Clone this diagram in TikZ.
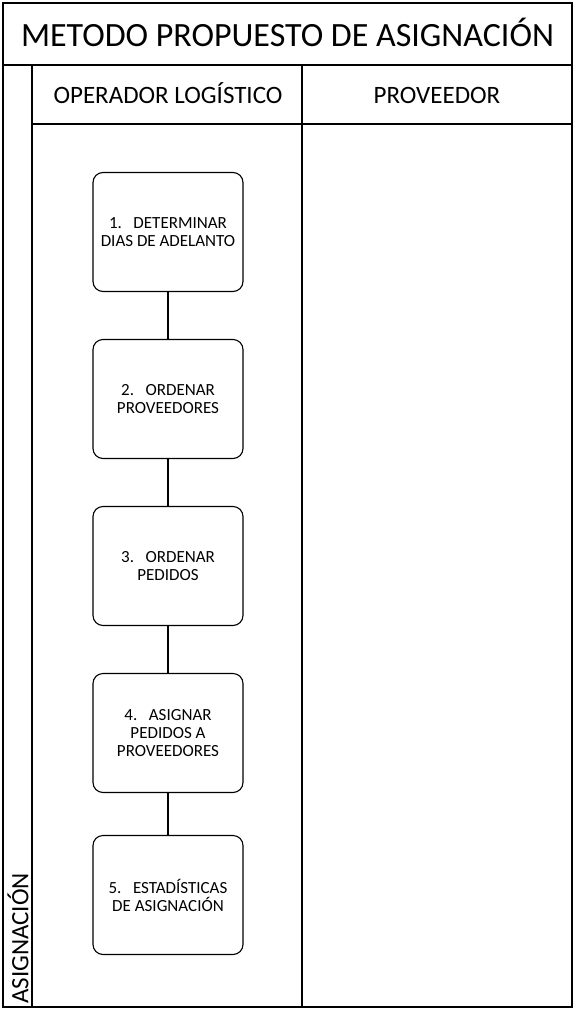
\documentclass[tikz,border=0pt]{standalone}
\usepackage{fontspec}
\setmainfont{Carlito}
\begin{document}
\begin{tikzpicture}[x=1pt,y=-1pt,
  frame/.style={line width=1.4pt},
  stepbox/.style={draw,line width=1.1pt,rounded corners=10pt,minimum width=150pt,
    minimum height=119pt,align=center,font=\fontsize{17}{18}\selectfont,inner sep=2pt},
  heading/.style={anchor=base,inner sep=0pt},
  link/.style={line width=1.1pt}]
\useasboundingbox (0,0) rectangle (574,1009);
% outer frame and lane grid
\draw[frame] (3,3) rectangle (572,1007);
\draw[frame] (3,65) -- (572,65);
\draw[frame] (32,65) -- (32,1007);
\draw[frame] (32,124) -- (572,124);
\draw[frame] (302,65) -- (302,1007);
% headings
\node[heading] (title) at (287.5,46) {\fontsize{34}{38}\selectfont METODO PROPUESTO DE ASIGNACIÓN};
\node[heading] (colA) at (168,103) {\fontsize{25}{28}\selectfont OPERADOR LOGÍSTICO};
\node[heading] (colB) at (437,103) {\fontsize{25}{28}\selectfont PROVEEDOR};
\node[rotate=90,anchor=west,inner sep=0pt] (lane) at (18,1004) {\fontsize{25}{28}\selectfont ASIGNACIÓN};
% process steps
\node[stepbox] (s1) at (168,232) {1.\ \ \ DETERMINAR\\DIAS DE ADELANTO};
\node[stepbox] (s2) at (168,399) {2.\ \ \ ORDENAR\\PROVEEDORES};
\node[stepbox] (s3) at (168,566) {3.\ \ \ ORDENAR\\PEDIDOS};
\node[stepbox] (s4) at (168,733) {4.\ \ \ ASIGNAR\\PEDIDOS A\\PROVEEDORES};
\node[stepbox] (s5) at (168,895) {5.\ \ \ ESTADÍSTICAS\\DE ASIGNACIÓN};
% connectors
\draw[link] (s1) -- (s2);
\draw[link] (s2) -- (s3);
\draw[link] (s3) -- (s4);
\draw[link] (s4) -- (s5);
\end{tikzpicture}
\end{document}
